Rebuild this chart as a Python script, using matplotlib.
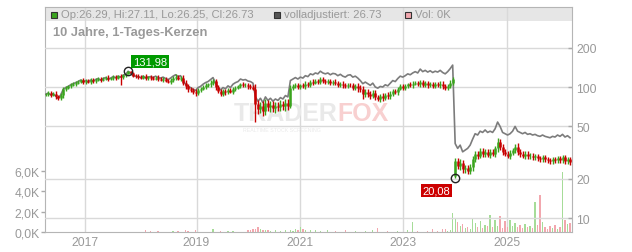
import numpy as np
import matplotlib
matplotlib.use("Agg")
import matplotlib.pyplot as plt
from matplotlib.patches import Rectangle

plt.rcParams['font.family'] = ['Liberation Sans', 'DejaVu Sans']

# closing prices, one sample roughly every 12 sessions
closes = [
    88, 90, 87, 89, 85, 82, 87, 96, 99, 101,
    104, 106, 108, 110, 113, 109, 112, 110, 113, 111,
    114, 116, 113, 116, 118, 115, 117, 120, 118, 121,
    119, 123, 125, 131.98, 127, 122, 121, 120, 118, 121,
    117, 119, 118, 116, 118, 115, 114, 116, 112, 110,
    113, 117, 120, 116, 118, 108, 101, 97, 95, 92,
    90, 95, 97, 100, 103, 105, 108, 111, 100, 94,
    89, 93, 91, 95, 92, 97, 99, 101, 105, 103,
    104, 101, 100, 97, 74, 68, 72, 66, 75, 70,
    73, 69, 72, 70, 74, 71, 76, 72, 99, 101,
    104, 100, 103, 101, 106, 104, 110, 108, 112, 110,
    115, 111, 109, 111, 107, 110, 108, 104, 106, 103,
    101, 104, 103, 99, 101, 98, 96, 88, 92, 89,
    86, 90, 84, 81, 85, 83, 87, 85, 89, 93,
    91, 97, 102, 99, 101, 105, 103, 106, 108, 105,
    109, 104, 107, 103, 106, 102, 105, 103, 106, 101,
    98, 102, 108, 115, 27, 25, 26.5, 23.5, 24, 23,
    24.5, 28, 31, 30, 32.5, 31, 32, 30.5, 32, 31,
    34, 38, 35, 32, 31, 30, 31.5, 33, 35, 32,
    31, 30, 31, 29.5, 30, 29, 29.5, 28.5, 28, 29,
    28, 27.5, 27, 28, 27.5, 28.5, 27.5, 29, 27, 28,
    26.73,
]

# high-low range of each sample, percent
range_pct = [
    5, 6, 7, 5, 8, 6, 7, 9, 6, 5, 6, 5, 7, 6, 5, 8, 6, 5, 7, 6,
    5, 6, 7, 5, 6, 8, 5, 6, 7, 5, 6, 6, 5, 0, 0, 6, 5, 7, 6, 5,
    6, 5, 7, 6, 5, 8, 6, 7, 5, 6, 7, 6, 8, 5, 7, 9, 8, 10, 7, 8,
    9, 7, 8, 6, 7, 6, 8, 7, 9, 8, 7, 9, 8, 7, 6, 8, 7, 6, 5, 7,
    6, 8, 7, 6, 18, 16, 14, 17, 15, 13, 16, 14, 15, 13, 14, 12, 15, 13,
    9, 8, 7, 8, 6, 7, 8, 6, 7, 8, 6, 7, 8, 6, 7, 8, 6, 7, 9, 7,
    6, 8, 7, 6, 7, 8, 9, 12, 10, 11, 9, 10, 11, 9, 10, 8, 9, 10, 8, 9,
    8, 9, 7, 8, 6, 7, 8, 6, 7, 8, 6, 7, 8, 6, 7, 8, 6, 7, 8, 7,
    9, 8, 7, 6, 8, 7,
    14, 12, 13, 11, 12, 10, 11, 12, 10, 11, 9, 10, 12, 10, 11, 9, 10, 13, 11, 10,
    9, 10, 11, 9, 10, 12, 10, 9, 11, 9, 10, 8, 9, 10, 8, 9, 10, 8, 9, 10,
    8, 9, 10, 9, 8, 10, 9,
]

# "volladjustiert" series, same sampling
adjusted = [
    88, 90, 87, 89, 85, 82, 87, 96, 99, 101,
    104, 106, 108, 110, 113, 109, 112, 110, 113, 111,
    114, 116, 113, 116, 118, 115, 117, 120, 118, 121,
    119, 123, 125, 131.98, 127, 122, 121, 120, 118, 121,
    117, 119, 120, 118, 121, 118, 117, 119, 116, 114,
    117, 121, 124, 120, 122, 112, 105, 101, 99, 96,
    94, 99, 101, 105, 108, 110, 114, 118, 107, 100,
    95, 99, 97, 102, 99, 105, 108, 110, 115, 113,
    114, 111, 110, 107, 84, 78, 82, 76, 84, 79,
    82, 78, 81, 79, 83, 81, 86, 84, 112, 115,
    118, 115, 119, 117, 122, 120, 126, 124, 128, 126,
    132, 128, 126, 128, 124, 127, 126, 122, 125, 121,
    119, 123, 124, 119, 121, 117, 112, 106, 109, 106,
    103, 107, 100, 98, 101, 100, 104, 102, 107, 112,
    110, 116, 121, 119, 122, 126, 124, 128, 131, 128,
    137, 131, 134, 130, 133, 129, 132, 130, 134, 129,
    126, 131, 138, 147, 37, 34, 36, 32, 33, 34,
    36, 40, 44, 43, 46, 45, 47, 45, 46, 45,
    48, 54, 50, 45, 44, 43, 44, 46, 50, 46,
    45, 44, 45, 43.5, 44, 43, 43.5, 42.5, 42, 43,
    42, 41.5, 41, 42, 41.5, 43, 42, 43.5, 41.5, 42.5,
    41,
]

# volume in thousands, same sampling
volume_k = [
    0, 0, 0, 0, 0, 0, 0, 0, 0, 0,
    0, 0, 0, 0, 0, 0, 0, 0, 0, 0,
    0, 0, 0, 0, 0, 0, 0, 0, 0, 0,
    0, 0, 0, 0, 0, 0, 0, 0, 0, 0,
    0.2, 0, 0.1, 0, 0, 0.1, 0, 0, 0, 0,
    0, 0.1, 0, 0.1, 0, 0, 0.2, 0.1, 0, 0,
    0.15, 0, 0, 0, 0, 0, 0, 0.3, 0, 0,
    0.1, 0, 0, 0.1, 0, 0.1, 0, 0, 0, 0,
    0, 0.15, 0.2, 0.3, 0.25, 0.45, 0.3, 0.2, 0.15, 0.2,
    0.1, 0, 0.15, 0, 0.1, 0, 0.15, 0, 0.2, 0.1,
    0.3, 0.2, 0.45, 0.3, 0.2, 0, 0.15, 0, 0.2, 0,
    0.1, 0, 0, 0.2, 0, 0, 0.1, 0, 0, 0,
    0.15, 0, 0, 0, 0.1, 0, 0, 0, 0.1, 0,
    0, 0.15, 0, 0.35, 0, 0, 0, 0.1, 0, 0,
    0, 0.1, 0, 0, 0, 0.2, 0, 1.0, 0, 0.1,
    0, 0, 0, 0.1, 0, 0.3, 0, 0.1, 0, 0.25,
    0.3, 0.1, 0.2, 1.9, 1.3, 1.0, 0.6, 0.8, 0.4, 0.5,
    0.3, 1.4, 0.9, 0.5, 1.1, 0.4, 0.7, 0.6, 1.7, 0.5,
    1.2, 0.6, 1.6, 0.4, 1.1, 0.5, 1.2, 0.6, 0.9, 0.5,
    0.7, 0.4, 0.8, 0.5, 0.6, 0.4, 2.9, 0.7, 3.6, 1.0,
    0.5, 0.3, 0.6, 0.4, 0.7, 0.3, 0.5, 5.9, 1.2, 0.8,
    0.9,
]

# long lower wicks worth showing
wick_idx = [30, 84, 127, 164]
wick_low = [104, 54, 81, 20.08]
gap_idx = 164
gap_open = 21.0

year_pos = [15.7, 60.4, 101.7, 143.3, 184.9]
year_labels = ['2017', '2019', '2021', '2023', '2025']
price_ticks = [10, 20, 50, 100, 200]
vol_ticks = [0, 2, 4, 6]
vol_labels = ['0,0K', '2,0K', '4,0K', '6,0K']

legend_text = ['Op:26.29, Hi:27.11, Lo:26.25, Cl:26.73', 'volladjustiert: 26.73', 'Vol: 0K']
title = '10 Jahre, 1-Tages-Kerzen'

GREEN = '#3aa41e'
RED = '#c80000'
VOL_GREEN = '#a6dc98'
VOL_RED = '#f2a7ae'
GRID = '#d9d9d9'
TXT = '#999999'

closes = np.array(closes, dtype=float)
adjusted = np.array(adjusted, dtype=float)
volume_k = np.array(volume_k, dtype=float)
rng = np.array(range_pct, dtype=float) / 200
x = np.arange(len(closes))
opens = np.r_[closes[0], closes[:-1]]
opens[gap_idx] = gap_open
up = closes >= opens
body_lo = np.minimum(opens, closes)
body_hi = np.maximum(opens, closes)
lows = body_lo * (1 - rng)
highs = body_hi * (1 + rng)
lows[wick_idx] = wick_low
cols = np.where(up, GREEN, RED)

fig = plt.figure(figsize=(6.32, 2.53), dpi=100)
ax = fig.add_axes([45 / 632, 20 / 253, 527 / 632, 225 / 253])
ax2 = ax.twinx()

# --- volume (left axis) ---
ax.set_xlim(-0.3, 210.8)
ax.set_ylim(0, 22.05)
ax.add_patch(Rectangle((0, 0.938), 1, 0.062, transform=ax.transAxes,
                       facecolor='#e6e6e6', edgecolor='none', zorder=0))
for xp in year_pos:
    ax.axvline(xp, color=GRID, lw=1, zorder=1)
ax.bar(x, volume_k, width=0.5, color=np.where(up, VOL_GREEN, VOL_RED), zorder=2)

# watermark
ax.text(0.555, 0.53, 'TRADER', transform=ax.transAxes, ha='right', va='center',
        fontsize=18, fontweight='bold', color='#e9e9e9', zorder=1)
ax.text(0.555, 0.53, 'FOX', transform=ax.transAxes, ha='left', va='center',
        fontsize=18, fontweight='bold', color='#f8d0d0', zorder=1)
ax.text(0.45, 0.455, 'REALTIME STOCK SCREENING', transform=ax.transAxes, ha='center',
        va='center', fontsize=3.8, color='#eaeaea', zorder=1)

ax.set_yticks(vol_ticks)
ax.set_yticklabels(vol_labels)
ax.set_xticks(year_pos)
ax.set_xticklabels(year_labels)
ax.tick_params(axis='y', direction='out', length=3, width=1, color='#aaaaaa',
               labelcolor=TXT, labelsize=8.7, pad=1)
ax.tick_params(axis='x', length=0, labelcolor=TXT, labelsize=8.7, pad=3)
for s in ['left', 'bottom', 'top']:
    ax.spines[s].set_color('#b5b5b5')
ax.spines['right'].set_visible(False)

# --- price (right axis, log) ---
ax2.set_yscale('log')
ax2.set_ylim(7.82, 408)
for p in price_ticks:
    ax2.axhline(p, color=GRID, lw=1, zorder=1)

ax2.plot(x, adjusted, color='#7c7c7c', lw=1.2, zorder=2)
ax2.vlines(x, lows, highs, colors=cols, lw=1.0, zorder=3)
ax2.vlines(x, body_lo, body_hi, colors=cols, lw=1.8, zorder=3)

# extreme markers
imax = int(np.argmax(closes))
imin = int(np.argmin(lows))
vmin = lows[imin]
ax2.plot(x[imax], closes[imax], 'o', ms=6, mfc='none', mec='#222222', mew=1, zorder=4)
ax2.plot(x[imin], vmin, 'o', ms=6, mfc='none', mec='#222222', mew=1, zorder=4)
ax2.annotate(f'{closes[imax]:.2f}'.replace('.', ','), (x[imax], closes[imax]),
             xytext=(5, 5), textcoords='offset pixels', ha='left', va='bottom',
             color='white', fontsize=8,
             bbox=dict(boxstyle='square,pad=0.15', fc='#009a00', ec='none'), zorder=5)
ax2.annotate(f'{vmin:.2f}'.replace('.', ','), (x[imin], vmin),
             xytext=(-5, -7), textcoords='offset pixels', ha='right', va='top',
             color='white', fontsize=8,
             bbox=dict(boxstyle='square,pad=0.15', fc='#cc0000', ec='none'), zorder=5)

ax2.set_yticks(price_ticks)
ax2.set_yticklabels([str(p) for p in price_ticks])
ax2.yaxis.set_minor_locator(matplotlib.ticker.NullLocator())
ax2.tick_params(axis='y', direction='in', length=3, width=1, color='#aaaaaa',
                labelcolor=TXT, labelsize=8.7, pad=3)
ax2.spines['right'].set_color('#b5b5b5')
for s in ['left', 'bottom', 'top']:
    ax2.spines[s].set_visible(False)

# --- legend band and title ---
sq = [(51, GREEN), (274, '#555555'), (405, VOL_RED)]
for (px, c), t in zip(sq, legend_text):
    fig.patches.append(Rectangle((px / 632, (253 - 18.5) / 253), 6 / 632, 6 / 253,
                                 transform=fig.transFigure, facecolor=c,
                                 edgecolor='#333333', lw=0.8))
    fig.text((px + 10) / 632, (253 - 15.5) / 253, t, ha='left', va='center',
             fontsize=8.1, color=TXT)
fig.text(53 / 632, (253 - 33) / 253, title, ha='left', va='center',
         fontsize=9.3, fontweight='bold', color=TXT)

fig.savefig('out.png', dpi=100)
